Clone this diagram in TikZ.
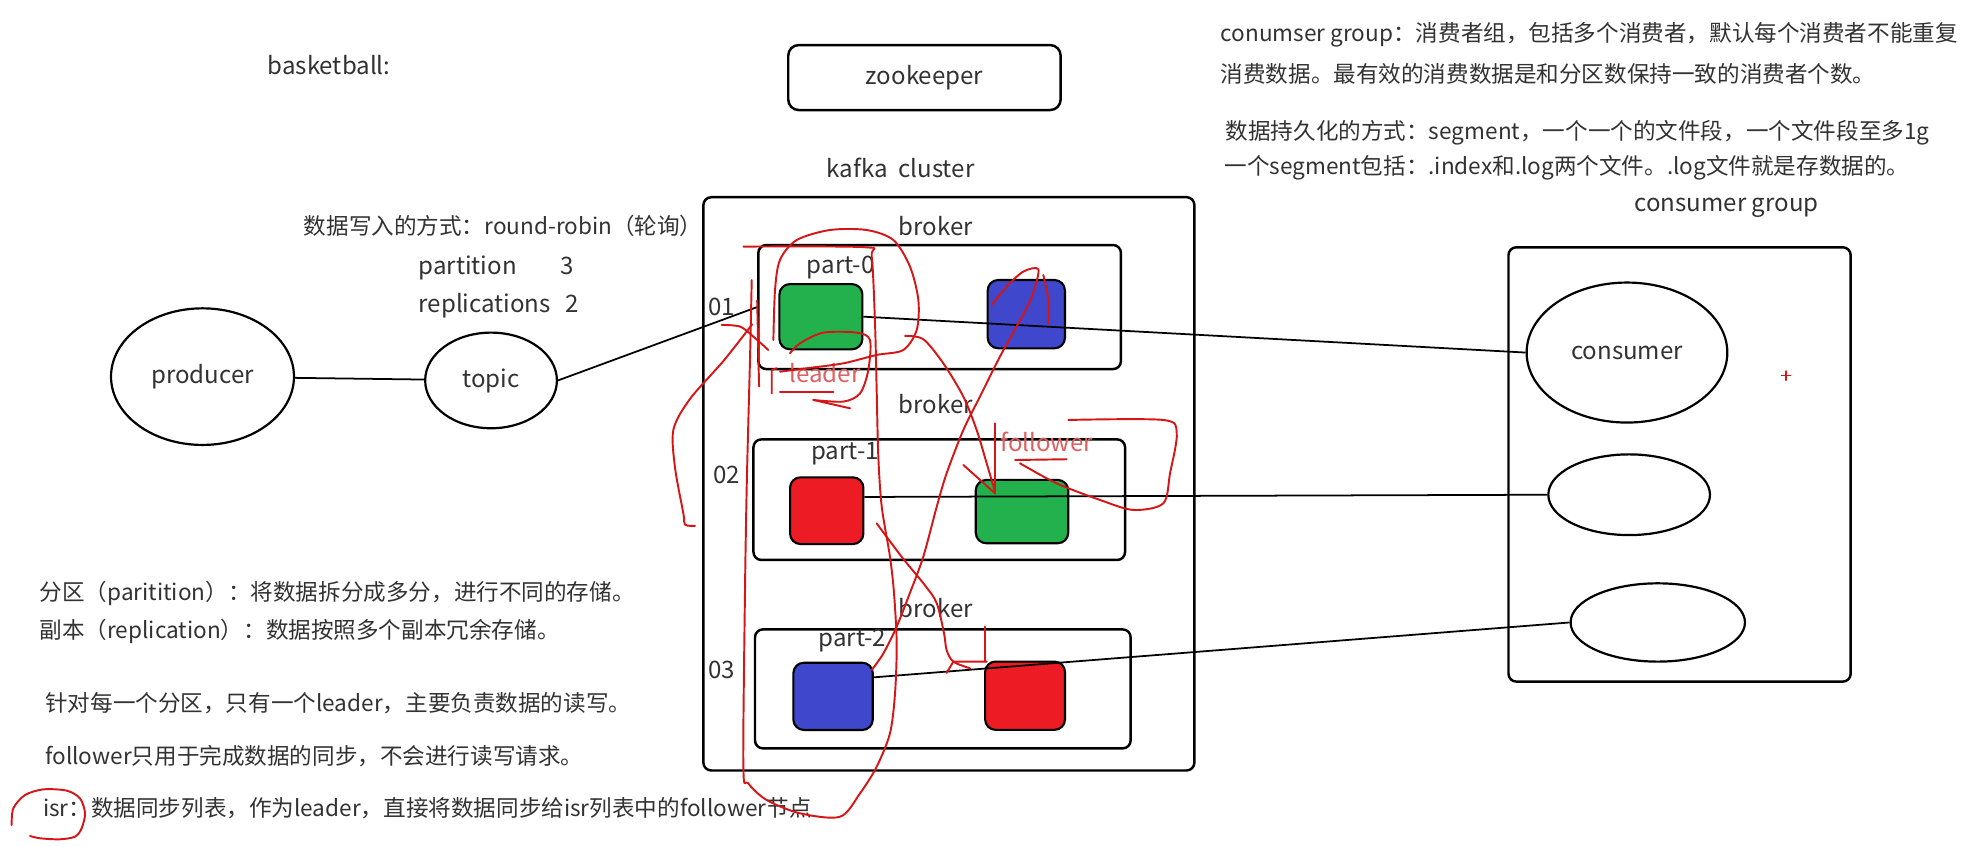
\documentclass[tikz,border=0pt]{standalone}
\usepackage{fontspec}
\setmainfont{Noto Sans CJK SC}
\usetikzlibrary{shapes.geometric,positioning}

\definecolor{pgreen}{RGB}{34,177,76}
\definecolor{pblue}{RGB}{63,72,204}
\definecolor{pred}{RGB}{237,28,36}
\definecolor{penred}{RGB}{214,22,22}
\definecolor{handred}{RGB}{222,95,95}
\definecolor{ink}{RGB}{50,50,50}
\newcommand{\labfont}{\fontsize{13.7}{16}\selectfont}
\newcommand{\txtfont}{\fontsize{12.85}{15}\selectfont}

\begin{document}
\begin{tikzpicture}[
  x=0.02534cm, y=-0.02534cm,
  box/.style={draw, line width=1.4pt, rounded corners=4.5pt, inner sep=0pt},
  cell/.style={draw, line width=1.2pt, rounded corners=6pt, inner sep=0pt},
  oval/.style={draw, ellipse, line width=1.25pt, inner sep=0pt, text=ink, font=\labfont},
  lbl/.style={text=ink, inner sep=0pt, font=\labfont},
  notetext/.style={text=ink, inner sep=0pt, anchor=west, font=\txtfont},
  hand/.style={text=handred, inner sep=0pt, font=\labfont},
  link/.style={line width=1pt},
  scribble/.style={penred, line width=1.1pt, line cap=round, line join=round}
]
  \useasboundingbox (0,0) rectangle (1568,668);

  % top row
  \node[lbl, anchor=west] (ball) at (211,51) {basketball:};
  \node[box, rounded corners=6pt, font=\labfont, text=ink,
        minimum width=5.448cm, minimum height=1.30cm] (zk) at (729.5,61.2) {zookeeper};
  \node[lbl] (kc) at (710.6,132.8) {kafka\hspace{0.45em}cluster};

  % kafka cluster with its three brokers
  \node[box, minimum width=9.82cm, minimum height=11.466cm] (kafka) at (748.8,381.8) {};
  \node[box, minimum width=7.252cm, minimum height=2.481cm] (b1) at (741.5,242.3) {};
  \node[box, minimum width=7.432cm, minimum height=2.412cm] (b2) at (741.2,394.3) {};
  \node[box, minimum width=7.513cm, minimum height=2.379cm] (b3) at (744,543.6) {};

  \foreach \i/\y in {1/178.3, 2/319, 3/480}
    \node[lbl] (bl\i) at (738.5,\y) {broker};
  \node[lbl] (n1) at (569.5,242) {01};
  \node[lbl] (n2) at (573.4,374.8) {02};
  \node[lbl] (n3) at (569.5,528.7) {03};
  \node[lbl] (p0) at (663.4,210.9) {part-0};
  \node[lbl] (p1) at (666.8,357.7) {part-1};
  \node[lbl] (p2) at (672.6,505.6) {part-2};

  % partitions and replicas
  \node[cell, fill=pgreen, minimum width=1.66cm, minimum height=1.305cm] (g1) at (647.8,249.9) {};
  \node[cell, fill=pblue, minimum width=1.546cm, minimum height=1.366cm] (u1) at (809.9,247.9) {};
  \node[cell, fill=pred, minimum width=1.467cm, minimum height=1.335cm] (r2) at (652.4,403) {};
  \node[cell, fill=pgreen, minimum width=1.85cm, minimum height=1.267cm] (g2) at (806.5,403.7) {};
  \node[cell, fill=pblue, minimum width=1.589cm, minimum height=1.346cm] (u3) at (657.4,549.5) {};
  \node[cell, fill=pred, minimum width=1.599cm, minimum height=1.366cm] (r3) at (808.9,549) {};

  % producer side
  \node[oval, minimum width=3.659cm, minimum height=2.732cm] (producer) at (159.8,297.2) {producer};
  \node[oval, minimum width=2.635cm, minimum height=1.913cm] (topic) at (387.5,300.2) {topic};
  \node[notetext] (rr) at (239.5,178) {数据写入的方式：round-robin（轮询）};
  \node[lbl, anchor=west] (np) at (330.1,211.7) {partition\hspace*{1.8em}3};
  \node[lbl, anchor=west] (nr) at (330.1,241.5) {replications\hspace*{0.6em}2};

  % consumer group
  \node[lbl] (cgl) at (1362.5,163.6) {consumer group};
  \node[box, minimum width=6.844cm, minimum height=8.687cm] (grp) at (1325.4,366.5) {};
  \node[oval, minimum width=4.014cm, minimum height=2.80cm] (con) at (1283.9,278.2) {consumer};
  \node[oval, minimum width=3.233cm, minimum height=1.614cm] (e2) at (1285.6,390.4) {};
  \node[oval, minimum width=3.487cm, minimum height=1.566cm] (e3) at (1308.2,491.2) {};

  % notes
  \node[notetext] (t1) at (963,27.5) {conumser group：消费者组，包括多个消费者，默认每个消费者不能重复};
  \node[notetext] (t2) at (963,58.5) {消费数据。最有效的消费数据是和分区数保持一致的消费者个数。};
  \node[notetext] (t3) at (967,104.5) {数据持久化的方式：segment，一个一个的文件段，一个文件段至多1g};
  \node[notetext] (t4) at (966,132.5) {一个segment包括：.index和.log两个文件。.log文件就是存数据的。};
  \node[notetext] (d1) at (31,468.2) {分区（paritition）：将数据拆分成多分，进行不同的存储。};
  \node[notetext] (d2) at (31,498.5) {副本（replication）：数据按照多个副本冗余存储。};
  \node[notetext] (d3) at (35.5,555) {针对每一个分区，只有一个leader，主要负责数据的读写。};
  \node[notetext] (d4) at (35.5,597) {follower只用于完成数据的同步，不会进行读写请求。};
  \node[notetext] (isr) at (33.7,638) {isr：数据同步列表，作为leader，直接将数据同步给isr列表中的follower节点};

  % connections
  \draw[link] (producer) -- (topic);
  \draw[link] (topic.east) -- (b1.west);
  \foreach \from/\to in {g1.east/con.west, r2.20/e2.west, u3.25/e3.west}
    \draw[link] (\from) -- (\to);

  % handwritten marks
  \node[hand] (ld) at (651,294.6) {leader};
  \node[hand] (fw) at (826,348.5) {follower};

  \draw[scribble] plot[smooth, tension=0.5] coordinates {(610.3,268.3) (611.6,228.8) (615.5,205.1)
    (628.7,189.4) (655,181.5) (683.9,181.5) (705,189.4) (718.1,210.4) (724.7,236.7) (723.4,260.4)
    (712.8,276.2) (691.8,280.1) (665.5,286.7) (636.6,290.6) (615.5,293.3)};
  \draw[scribble] plot[smooth, tension=0.5] coordinates {(623.4,278.8) (631.3,270.9) (649.7,262.5)
    (676,262.5) (686.5,268.3) (685.2,292) (678.7,310.4) (665.5,316.9) (641.8,315.6)};
  \draw[scribble] (641.8,315.6) -- (670.8,322.2);
  \draw[scribble] (615.5,309.6) -- (657.6,309.6);
  \draw[scribble] (609,310.4) -- (609,292) -- (612.9,290.6);
  \draw[scribble] (597.5,237) -- (599,305);
  \draw[scribble] plot[smooth, tension=0.5] coordinates {(569.5,256.4) (584,257.7) (594.5,265.6) (606.3,276.2)};
  \draw[scribble] plot[smooth, tension=0.5] coordinates {(593.5,256) (571,284.7) (544.5,314.8)
    (531.4,339) (532.7,369.2) (539.3,405.4) (540.6,414) (548.5,415)};

  % isr loop
  \draw[scribble] plot[smooth, tension=0.5] coordinates {(586.6,194.6) (682.6,195.1) (687.9,202.5)
    (690.5,255.1) (691.8,307.7) (693.1,360.3) (695.8,399.8) (702.3,439.3) (705.5,468.2)
    (707.6,507.7) (706.3,547.1) (702.3,578.7) (691.8,605) (678.7,626) (662.9,644.5) (631.3,641.8)
    (605,631.3) (590.5,618.1) (586.6,605) (587.9,465.6) (589.2,386.6) (590.5,334) (591.9,281.4)
    (593.2,221)};

  % replica sync strokes
  \draw[scribble] plot[smooth, tension=0.5] coordinates {(691.8,413) (712,440) (730,462)
    (739.2,476) (745,500) (747,513) (752.3,522.1) (765.5,527.4)};
  \draw[scribble] (747,531) -- (752.3,522.1) -- (778.6,522.1);
  \draw[scribble] (777.3,522.1) -- (777.3,494.5);
  \draw[scribble] plot[smooth, tension=0.5] coordinates {(782.6,240.6) (794.4,226.2) (807.5,214.3)
    (819.4,212.5) (815,232) (807.5,248) (789.1,281.4) (773.3,313) (760.2,339.3) (747,373.5)
    (739.2,399.8) (728.6,439.3) (718,468) (707.6,494.5) (697.1,515.6) (687.9,528.7)};
  \draw[scribble] plot[smooth, tension=0.5] coordinates {(823.3,217) (827.3,236.7) (827.3,255.1)};
  \draw[scribble] plot[smooth, tension=0.5] coordinates {(714.2,265.1) (728.6,267.7) (744.4,286.7)
    (760.2,313) (770.7,339.3) (778.6,365.6) (785.2,388)};
  \draw[scribble] (760.2,366.9) -- (785.2,389.3);
  \draw[scribble] (785.2,334) -- (785.2,388);
  \draw[scribble] plot[smooth, tension=0.5] coordinates {(843,331.4) (918,331.4) (928.6,341.9)
    (923.3,373.5) (918,397.2) (894.3,402.4) (868,394.5) (833.8,381.4) (804.9,365.6)};
  \draw[scribble] (801,363) -- (841.7,362.4);

  % circle round isr
  \draw[scribble] plot[smooth, tension=0.5] coordinates {(9.2,651) (10.5,637.9) (19.7,627.4)
    (34.2,622.9) (52.6,623.9) (63.1,630) (67.1,641.8) (64.4,653.7) (59.2,660.2) (47.3,662.3)
    (31.6,661.5) (23.7,659.7)};

  % cursor mark
  \draw[scribble, line width=0.9pt] (1405.8,296.4) -- (1413,296.4) (1409.4,292.8) -- (1409.4,300);
\end{tikzpicture}
\end{document}
